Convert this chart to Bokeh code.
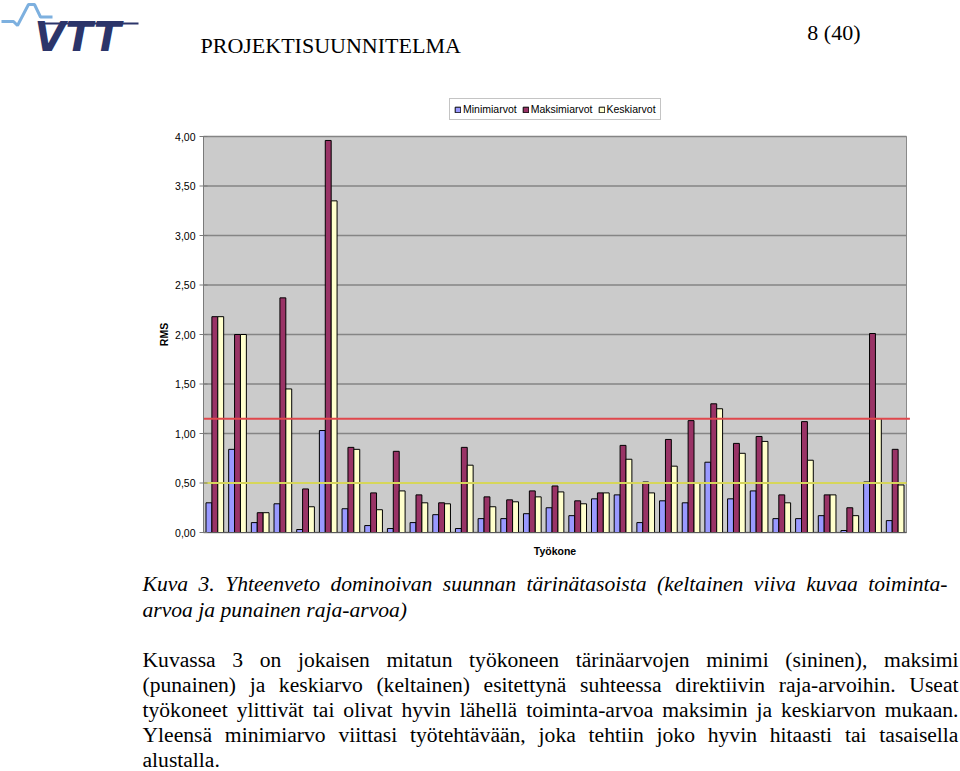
import math
from bokeh.plotting import figure
from bokeh.models import Range1d, ColumnDataSource, Legend, LegendItem
from bokeh.core.properties import value
from bokeh.transform import dodge
from bokeh.embed import file_html
from bokeh.resources import INLINE

# ---------------- data ----------------
machines = list(range(1, 32))
min_values = [0.30, 0.84, 0.10, 0.29, 0.03, 1.03, 0.24, 0.07, 0.04, 0.10,
              0.18, 0.04, 0.14, 0.14, 0.19, 0.25, 0.17, 0.34, 0.38, 0.10,
              0.32, 0.30, 0.71, 0.34, 0.42, 0.14, 0.14, 0.17, 0.02, 0.51, 0.12]
max_values = [2.18, 2.00, 0.20, 2.37, 0.44, 3.96, 0.86, 0.40, 0.82, 0.38,
              0.30, 0.86, 0.36, 0.33, 0.42, 0.47, 0.32, 0.40, 0.88, 0.51,
              0.94, 1.13, 1.30, 0.90, 0.97, 0.38, 1.12, 0.38, 0.25, 2.01, 0.84]
avg_values = [2.18, 2.00, 0.20, 1.45, 0.26, 3.35, 0.84, 0.23, 0.42, 0.30,
              0.29, 0.68, 0.26, 0.31, 0.36, 0.41, 0.29, 0.40, 0.74, 0.40,
              0.67, 0.50, 1.25, 0.80, 0.92, 0.30, 0.73, 0.38, 0.17, 1.15, 0.48]
series_names = ["Minimiarvot", "Maksimiarvot", "Keskiarvot"]
y_ticks = [0.0, 0.5, 1.0, 1.5, 2.0, 2.5, 3.0, 3.5, 4.0]
y_tick_labels = [f"{t:.2f}".replace(".", ",") for t in y_ticks]
y_axis_title = "RMS"
x_axis_title = "Työkone"
action_value = 0.5   # toiminta-arvo (keltainen)
limit_value = 1.15   # raja-arvo (punainen)

header_title = "PROJEKTISUUNNITELMA"
page_number = "8 (40)"
caption_lines = [
    "Kuva 3. Yhteenveto dominoivan suunnan tärinätasoista (keltainen viiva kuvaa toiminta-",
    "arvoa ja punainen raja-arvoa)",
]
body_lines = [
    "Kuvassa 3 on jokaisen mitatun työkoneen tärinäarvojen minimi (sininen), maksimi",
    "(punainen) ja keskiarvo (keltainen) esitettynä suhteessa direktiivin raja-arvoihin. Useat",
    "työkoneet ylittivät tai olivat hyvin lähellä toiminta-arvoa maksimin ja keskiarvon mukaan.",
    "Yleensä minimiarvo viittasi työtehtävään, joka tehtiin joko hyvin hitaasti tai tasaisella",
    "alustalla.",
]

# ---------------- page geometry (page pixels, y measured down from top) ----------------
W, H = 960, 771
FL, FR, FT, FB = 203, 906, 136, 532   # chart plot area
XMIN, XMAX = 0.5, 31.5
YMIN, YMAX = 0.0, 4.0


def Y(py):
    return H - py


def TY(baseline_py, size):
    # vertical middle of a text whose baseline should sit at baseline_py
    return Y(baseline_py - 0.34 * size)


p = figure(width=W, height=H, output_backend="svg", toolbar_location=None,
           x_range=Range1d(0, W), y_range=Range1d(0, H),
           min_border=0, min_border_left=0, min_border_right=0,
           min_border_top=0, min_border_bottom=0)
p.axis.visible = False
p.grid.visible = False
p.outline_line_color = None
p.background_fill_color = "white"
p.border_fill_color = "white"

# chart sub-coordinate system mapped onto the plot area
sub = p.subplot(x_source=Range1d(XMIN, XMAX), y_source=Range1d(YMIN, YMAX),
                x_target=Range1d(FL, FR), y_target=Range1d(Y(FB), Y(FT)))

# plot area, grid
sub.quad(left=[XMIN], right=[XMAX], bottom=[YMIN], top=[YMAX],
         fill_color="#CBCBCB", line_color="#8A8A8A", line_width=1)
sub.segment(x0=XMIN, x1=XMAX, y0=y_ticks, y1=y_ticks, line_color="#858585", line_width=1.5)

# bars
src = ColumnDataSource(dict(x=machines, mn=min_values, mx=max_values, av=avg_values))
bw = 0.26
r_min = sub.vbar(x=dodge("x", -bw), top="mn", bottom=0, width=bw, source=src,
                 fill_color="#9999FF", line_color="black", line_width=1)
r_max = sub.vbar(x=dodge("x", 0), top="mx", bottom=0, width=bw, source=src,
                 fill_color="#993366", line_color="black", line_width=1)
r_avg = sub.vbar(x=dodge("x", bw), top="av", bottom=0, width=bw, source=src,
                 fill_color="#FFFFCC", line_color="black", line_width=1)

# action / limit lines
sub.segment(x0=[XMIN], x1=[XMAX + 0.15], y0=[limit_value], y1=[limit_value],
            line_color="#E0474C", line_width=2)
sub.segment(x0=[XMIN], x1=[XMAX], y0=[action_value], y1=[action_value],
            line_color="#D6D65A", line_width=2)

# axes
sub.segment(x0=[XMIN], x1=[XMIN], y0=[YMIN], y1=[YMAX], line_color="#7A7A7A", line_width=1)
sub.segment(x0=[XMIN], x1=[XMAX], y0=[YMIN], y1=[YMIN], line_color="#5A5A5A", line_width=1)
sub.scatter(x=[XMIN] * len(y_ticks), y=y_ticks, marker="dash", size=8,
            line_color="#7A7A7A", line_width=1)
sub.text(x=[XMIN] * len(y_ticks), y=y_ticks, text=y_tick_labels, x_offset=-8,
         text_align="right", text_baseline="middle", text_font=value("Liberation Sans"),
         text_font_size=value("10.5px"), text_color="black")
p.text(x=[163], y=[Y(334)], text=[y_axis_title], angle=math.pi / 2,
       text_align="center", text_baseline="middle", text_font=value("Liberation Sans"),
       text_font_style="bold", text_font_size=value("10.5px"), text_color="black")
p.text(x=[(FL + FR) / 2], y=[Y(550)], text=[x_axis_title],
       text_align="center", text_baseline="middle", text_font=value("Liberation Sans"),
       text_font_style="bold", text_font_size=value("10.5px"), text_color="black")

# legend
legend = Legend(items=[LegendItem(label=series_names[0], renderers=[r_min]),
                       LegendItem(label=series_names[1], renderers=[r_max]),
                       LegendItem(label=series_names[2], renderers=[r_avg])],
                orientation="horizontal", location=(449, H - 120),
                border_line_color="#8A8A8A", border_line_width=1,
                background_fill_color="white", background_fill_alpha=1.0,
                padding=4, spacing=5, margin=0, glyph_width=7, glyph_height=7,
                label_standoff=2, label_height=10, label_width=10,
                label_text_font="Liberation Sans", label_text_font_size="10.5px",
                label_text_color="black")
p.add_layout(legend)

# ---------------- header ----------------
p.text(x=[200], y=[TY(52, 22)], text=[header_title], text_font=value("Liberation Serif"),
       text_font_size=value("22px"), text_baseline="middle", text_align="left",
       text_color="black")
p.text(x=[860], y=[TY(39, 22)], text=[page_number], text_font=value("Liberation Serif"),
       text_font_size=value("22px"), text_baseline="middle", text_align="right",
       text_color="black")
wave_x = [1, 13, 17, 28, 34, 40, 52]
wave_y = [Y(v) for v in [21, 21, 25, 4, 4, 16.5, 16.5]]
p.line(wave_x, wave_y, line_color="#7DB0DF", line_width=3)
p.line([40, 138], [Y(23), Y(23)], line_color="#2C356A", line_width=2)
p.text(x=[34], y=[TY(50, 40)], text=["VTT"], text_font=value("DejaVu Sans"),
       text_font_style="bold italic", text_font_size=value("40px"),
       text_baseline="middle", text_color="#2C356A")

# ---------------- caption and body (justified) ----------------
ROMAN = {' ': 250, '(': 333, ')': 333, ',': 250, '-': 333, '.': 250, '3': 500,
         'A': 722, 'K': 722, 'U': 722, 'Y': 722,
         'a': 444, 'b': 500, 'c': 444, 'd': 500, 'e': 444, 'f': 333, 'g': 500, 'h': 500,
         'i': 278, 'j': 278, 'k': 500, 'l': 278, 'm': 778, 'n': 500, 'o': 500, 'p': 500,
         'q': 500, 'r': 333, 's': 389, 't': 278, 'u': 500, 'v': 500, 'w': 722, 'x': 500,
         'y': 500, 'z': 444, 'ä': 444, 'ö': 500}
ITALIC = {' ': 250, '(': 333, ')': 333, ',': 250, '-': 333, '.': 250, '3': 500,
          'K': 667, 'Y': 556,
          'a': 500, 'b': 500, 'c': 444, 'd': 500, 'e': 444, 'f': 278, 'g': 500, 'h': 500,
          'i': 278, 'j': 278, 'k': 444, 'l': 278, 'm': 722, 'n': 500, 'o': 500, 'p': 500,
          'q': 500, 'r': 389, 's': 389, 't': 278, 'u': 500, 'v': 444, 'w': 667, 'x': 444,
          'y': 444, 'z': 389, 'ä': 500, 'ö': 500}
FS = 21.6


def place(lines, baselines, table, x_left, x_right, justify_flags):
    xs, ys, texts = [], [], []
    for line, base, just in zip(lines, baselines, justify_flags):
        words = line.split(" ")
        ws = [sum(table.get(c, 500) for c in w) * FS / 1000.0 for w in words]
        if just and len(words) > 1:
            gap = (x_right - x_left - sum(ws)) / (len(words) - 1)
        else:
            gap = table[' '] * FS / 1000.0
        pos = x_left
        for w, wd in zip(words, ws):
            xs.append(pos)
            ys.append(TY(base, FS))
            texts.append(w)
            pos += wd + gap
    return ColumnDataSource(dict(x=xs, y=ys, text=texts))


cap_src = place(caption_lines, [591, 617], ITALIC, 142, 947, [True, False])
p.text(x="x", y="y", text="text", source=cap_src,
       text_font=value("Liberation Serif"), text_font_style="italic",
       text_font_size=value("21.6px"), text_baseline="middle", text_color="black")
body_src = place(body_lines, [667, 692, 717, 742, 767], ROMAN, 142, 958,
                 [True, True, True, True, False])
p.text(x="x", y="y", text="text", source=body_src,
       text_font=value("Liberation Serif"),
       text_font_size=value("21.6px"), text_baseline="middle", text_color="black")

open("out.html", "w").write(file_html(p, INLINE))
